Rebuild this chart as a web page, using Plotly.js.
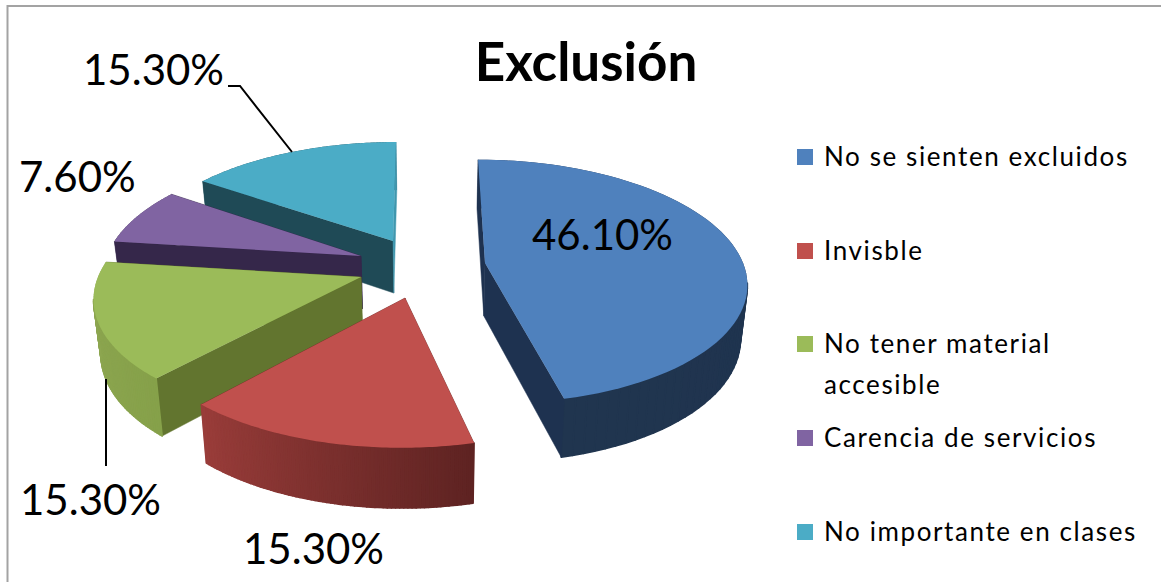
<!DOCTYPE html>
<html><head><meta charset="utf-8">
<script src="https://cdn.plot.ly/plotly-3.0.1.min.js"></script>
<style>html,body{margin:0;padding:0;background:#fff}#c{width:1161px;height:582px}</style>
</head><body><div id="c"></div>
<script>
const W = 1161, H = 582;
const categories = ['No se sienten excluidos','Invisble','No tener material<br>accesible','Carencia de servicios','No importante en clases'];
const values = [46.1, 15.3, 15.3, 7.6, 15.3];
const colors = ['#4f81bd','#c0504d','#9bbb59','#8064a2','#4bacc6'];
const pulls = [0.14, 0.1, 0.1, 0.1, 0.1];

// data label centres (px) in slice order
const labelX = [602, 314, 90, 77, 153];
const labelY = [234, 548, 499, 176, 69];

// 3D look: projection of each slice's circle sector on screen
const apexX = [485, 405, 361, 361, 393];
const apexY = [263, 298, 277, 256, 241];
const radX  = [258, 267, 263, 254, 254];
const radY  = [119, 127, 121, 118, 114];
const shear = [8, -3, -8, -5, -3.5];
const persp = 0.152;
const rimA = ['#1e3250','#5e2322','#86a14a','#35274a','#1f4a56'];
const rimB = ['#20354f','#9a3d3a','#90a853','#35274a','#1f4a56'];
const cutA = ['#1e3250','#6e2b29','#62752f','#35274a','#1f4a56'];
const cutB = ['#1e3250','#6e2b29','#62752f','#35274a','#4097ae'];
const zOrder = [4, 3, 2, 1, 0];

// legend rows (px)
const rowY = [157, 251, 344, 438, 532];
const legendFont = 26, lineGap = 41;

const px = (x,y)=>[x/W, 1-y/H];
const pathPx = pts => pts.map((p,i)=>{const q=px(p[0],p[1]);return (i?'L':'M')+q[0]+','+q[1];}).join(' ');
const font = 'Lato, "Open Sans", sans-serif';

const annotations = values.map((v,i)=>({
  text: v.toFixed(2)+'%', xref:'paper', yref:'paper', x:labelX[i]/W, y:1-labelY[i]/H,
  xanchor:'center', yanchor:'middle', showarrow:false, font:{family:font,size:42,color:'#000'}
}));

const lineStyle = {color:'#000',width:2};
const shapes = [
  {type:'path',xref:'paper',yref:'paper',path:pathPx([[7.5,582],[7.5,6],[1161,6]]),line:{color:'#a3a3a3',width:2}},
  {type:'path',xref:'paper',yref:'paper',path:pathPx([[228,86],[240,86],[292,152]]),line:lineStyle},
  {type:'path',xref:'paper',yref:'paper',path:pathPx([[106,379],[106,466]]),line:lineStyle}
];

const data = [{
  type:'pie', labels:categories, values:values, sort:false, direction:'clockwise', rotation:0,
  pull:pulls, textinfo:'none', hoverinfo:'label+percent',
  marker:{colors:colors,line:{width:0}}, domain:{x:[0.05,0.65],y:[0.1,0.8]}
}];
const layout = {
  width:W, height:H, margin:{l:0,r:0,t:0,b:0}, paper_bgcolor:'#fff', plot_bgcolor:'#fff',
  title:{text:'<b>Exclusión</b>', x:586/W, y:1-62/H, xanchor:'center', yanchor:'middle', font:{family:font,size:53,color:'#000'}},
  showlegend:true,
  legend:{x:0.68,y:0.8,xanchor:'left',yanchor:'top',bgcolor:'rgba(0,0,0,0)',traceorder:'normal',font:{family:font,size:legendFont,color:'#000'}},
  annotations, shapes
};

function lerpColor(a,b,t){
  const c=h=>[1,3,5].map(i=>parseInt(h.substr(i,2),16));
  const A=c(a),B=c(b);
  return 'rgb('+A.map((v,i)=>Math.round(v+(B[i]-v)*t)).join(',')+')';
}
function draw3D(gd){
  const cd = gd.calcdata[0];
  const groups = Array.from(gd.querySelectorAll('.pielayer .trace .slice'));
  const parent = groups[0].parentNode;
  groups.forEach((g,i)=>{
    const pt = cd[i];
    const a0 = Math.atan2(pt.px0[0],-pt.px0[1]);
    let a1 = Math.atan2(pt.px1[0],-pt.px1[1]);
    if(a1<=a0) a1+=2*Math.PI;
    const proj=(u,v)=>{const w=1-persp*v;return [apexX[i]+(radX[i]*u+shear[i]*v)/w, apexY[i]+radY[i]*v/w];};
    const down=p=>{const d=52+(p[1]-240)*0.04;return [p[0]+(430-p[0])*0.022,p[1]+d];};
    const n=72, rim=[];
    for(let k=0;k<=n;k++){const a=a0+(a1-a0)*k/n;rim.push(proj(Math.sin(a),-Math.cos(a)));}
    const apex=proj(0,0);
    const surf=g.querySelector('path.surface');
    const quads=[];
    const add=(p,q,col,sw)=>quads.push({p,q,col,sw});
    add(apex,rim[0],cutA[i],0.5);
    for(let k=0;k<n;k++) add(rim[k],rim[k+1],lerpColor(rimA[i],rimB[i],k/n),1.6);
    add(rim[n],apex,cutB[i],0.5);
    // back-facing walls (rim hidden behind the top face) get no stroke, so no outline shows round the top
    const facingDown=o=>Math.atan2(o.q[1]-o.p[1],o.q[0]-o.p[0]);
    const back=quads.filter(o=>o.q[0]-o.p[0]>=0), front=quads.filter(o=>o.q[0]-o.p[0]<0);
    const rimQuad=o=>o.sw>1;
    back.forEach(o=>{ if(rimQuad(o)) o.sw=0; });
    back.concat(front).forEach(o=>{
      const P=down(o.p),Q=down(o.q);
      const el=document.createElementNS('http://www.w3.org/2000/svg','path');
      el.setAttribute('d','M'+o.p+'L'+o.q+'L'+Q+'L'+P+'Z');
      el.setAttribute('style','fill:'+o.col+';stroke:'+o.col+';stroke-width:'+o.sw);
      g.insertBefore(el,surf);
    });
    surf.setAttribute('d','M'+apex+'L'+rim.join('L')+'Z');
    surf.removeAttribute('transform');
  });
  zOrder.forEach(i=>parent.appendChild(groups[i]));
}
function placeLegend(gd){
  const leg=gd.querySelector('.legend');
  leg.setAttribute('transform','translate(0,0)');
  const box=leg.querySelector('.scrollbox');
  box.removeAttribute('clip-path'); box.style.clipPath='none';
  box.setAttribute('transform','translate(0,0)');
  const rows=Array.from(leg.querySelectorAll('.traces'));
  rows.forEach((r,i)=>{
    r.setAttribute('transform','translate(0,'+rowY[i]+')');
    const sym=r.querySelector('.legendpoints path');
    sym.setAttribute('d','M8,8H-8V-8H8Z');
    sym.setAttribute('transform','translate(805,0)');
    const t=r.querySelector('text');
    t.setAttribute('x',824); t.setAttribute('y',9);
    t.style.letterSpacing='1.6px';
    t.querySelectorAll('tspan.line').forEach((s,k)=>{
      s.setAttribute('x',824);
      s.setAttribute('y',9);
      s.setAttribute('dy',k>0?lineGap+'px':'0');
    });
  });
}
Plotly.newPlot('c',data,layout,{staticPlot:true,displayModeBar:false}).then(gd=>{draw3D(gd);placeLegend(gd);});
</script></body></html>
